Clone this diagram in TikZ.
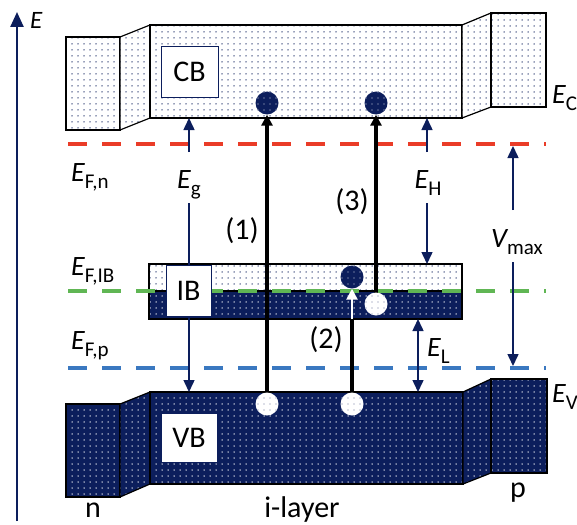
\documentclass[tikz,border=0pt]{standalone}
\usepackage{fontspec}
\setmainfont{Carlito}
\usetikzlibrary{arrows.meta,patterns.meta}

\definecolor{navy}{RGB}{12,30,92}
\definecolor{fnred}{RGB}{234,60,40}
\definecolor{fibgreen}{RGB}{96,182,84}
\definecolor{fpblue}{RGB}{58,120,192}

\newcommand{\fsz}[1]{\fontsize{#1}{#1}\selectfont}
\newcommand{\elevel}[2]{{\itshape #1}\raisebox{-7pt}{\fsz{21}#2}}

\tikzset{
  lightband/.style={draw=black, line width=1.2pt, preaction={fill=white},
    pattern={Dots[distance=6pt,radius=0.75pt]}, pattern color=navy!85},
  darkband/.style={draw=black, line width=1.2pt, preaction={fill=navy},
    pattern={Dots[distance=6pt,radius=0.75pt]}, pattern color=white!92!navy},
  bandnode/.style={rectangle, inner sep=0pt, outer sep=0pt},
  namebox/.style={draw=navy, line width=0.8pt, fill=white, inner sep=0pt, font=\fsz{30}},
  fermi/.style={line width=3.5pt, dash pattern=on 19pt off 15pt},
  gap/.style={draw=navy, line width=1.5pt, -{Triangle[width=11pt,length=12pt]}},
  jump/.style={line width=3.5pt, -{Triangle[width=11pt,length=11pt]}},
  electron/.style={circle, inner sep=0pt, minimum size=23pt, preaction={fill=navy},
    pattern={Dots[distance=6pt,radius=0.6pt]}, pattern color=white!80!navy},
  hole/.style={circle, inner sep=0pt, minimum size=23pt, preaction={fill=white},
    pattern={Dots[distance=6pt,radius=0.6pt]}, pattern color=navy!60},
  txt/.style={inner sep=0pt, font=\fsz{28}},
}

\begin{document}
\begin{tikzpicture}[x=1pt,y=-1pt]
\useasboundingbox (0,0) rectangle (577,524);
\coordinate (ax0) at (17,521);
\coordinate (ax1) at (17,12);
\draw[navy, line width=2.5pt, -{Triangle[width=13pt,length=15pt]}] (ax0) -- (ax1);
\node[txt, font=\fsz{25}\itshape, anchor=base west] (eaxis) at (30,29) {E};

\draw[lightband] (66,37) rectangle (120,130);
\draw[lightband] (120,37) -- (150,25) -- (150,118) -- (120,130) -- cycle;
\node[bandnode, lightband, minimum width=312pt, minimum height=93pt] (cbb) at (306,71.5) {};
\draw[lightband] (462,25) -- (491,13) -- (491,107) -- (462,118) -- cycle;
\draw[lightband] (491,13) rectangle (546,107);

\node[bandnode, lightband, minimum width=313pt, minimum height=27pt] (ibu) at (305.5,277.5) {};
\node[bandnode, darkband, minimum width=313pt, minimum height=28pt] (ibl) at (305.5,305) {};

\draw[darkband] (66,404) rectangle (120,497);
\draw[darkband] (120,404) -- (150,392) -- (150,484) -- (120,497) -- cycle;
\node[bandnode, darkband, minimum width=313pt, minimum height=92pt] (vbb) at (306.5,438) {};
\draw[darkband] (463,392) -- (491,379) -- (491,473) -- (463,484) -- cycle;
\draw[darkband] (491,379) rectangle (547,473);

\coordinate (fn) at (68,144);
\coordinate (fnr) at (546,144);
\coordinate (fib) at (68,291);
\coordinate (fibr) at (546,291);
\coordinate (fp) at (68,368);
\coordinate (fpr) at (546,368);
\draw[fermi, fnred] (fn) -- (fnr);
\draw[fermi, fibgreen] (fib) -- (fibr);
\draw[fermi, fpblue] (fp) -- (fpr);
\node[txt, anchor=base west] (lfn) at (71,181) {\elevel{E}{F,n}};
\node[txt, anchor=base west] (lfib) at (71,275) {\elevel{E}{F,IB}};
\node[txt, anchor=base west] (lfp) at (71,349) {\elevel{E}{F,p}};

\coordinate (eg1) at (189,152);
\coordinate (eg2) at (189,203);
\draw[gap] (eg1) -- (eg1 |- cbb.south);
\draw[gap] (eg2) -- (eg2 |- vbb.north);
\node[txt, anchor=base] (leg) at (189,188) {\elevel{E}{g}};

\node[namebox, minimum width=57pt, minimum height=51pt] (cb) at (189.5,71.5) {CB};
\node[namebox, minimum width=45pt, minimum height=51pt] (ib) at (188.5,290.5) {IB};
\node[namebox, minimum width=56pt, minimum height=49pt] (vb) at (189,437.5) {VB};

\coordinate (eh1) at (427,152);
\coordinate (eh2) at (427,203);
\draw[gap] (eh1) -- (eh1 |- cbb.south);
\draw[gap] (eh2) -- (eh2 |- ibu.north);
\node[txt, anchor=base] (leh) at (428,188) {\elevel{E}{H}};

\coordinate (vm1) at (513,210);
\coordinate (vm2) at (513,262);
\draw[gap, shorten >=2pt] (vm1) -- (vm1 |- fn);
\draw[gap, shorten >=2pt] (vm2) -- (vm2 |- fp);
\node[txt, anchor=base west] (lvm) at (491,247) {\elevel{V}{max}};

\coordinate (el) at (418,350);
\draw[gap, {Triangle[width=11pt,length=12pt]}-{Triangle[width=11pt,length=12pt]}] (el |- ibl.south) -- (el |- vbb.north);
\node[txt, anchor=base west] (lel) at (427,356) {\elevel{E}{L}};

\node[electron] (e1) at (267,103) {};
\node[electron] (e3) at (376,103) {};
\node[electron] (e2) at (352,277) {};
\coordinate (h1) at (267,404);
\coordinate (h2) at (352,404);
\coordinate (h3) at (376,304);
\draw[jump] (h1) -- (e1.south);
\draw[jump] (h3) -- (e3.south);
\draw[line width=3.5pt] (h2) -- (h2 |- ibl.south);
\draw[jump, white, line width=2.5pt] (h2 |- ibl.south) -- (e2.south);
\node[hole] (h1n) at (h1) {};
\node[hole] (h2n) at (h2) {};
\node[hole] (h3n) at (h3) {};

\node[txt, font=\fsz{30}] (t1) at (242,231) {(1)};
\node[txt, font=\fsz{30}] (t2) at (326,340) {(2)};
\node[txt, font=\fsz{30}] (t3) at (352,202) {(3)};

\node[txt, font=\fsz{30}, anchor=base] (ln) at (93,517) {n};
\node[txt, font=\fsz{30}, anchor=base] (lp) at (518,497) {p};
\node[txt, font=\fsz{30}, anchor=base] (li) at (302,517) {i-layer};
\node[txt, anchor=base west] (lec) at (552,103) {\elevel{E}{C}};
\node[txt, anchor=base west] (lev) at (552,402) {\elevel{E}{V}};
\end{tikzpicture}
\end{document}
